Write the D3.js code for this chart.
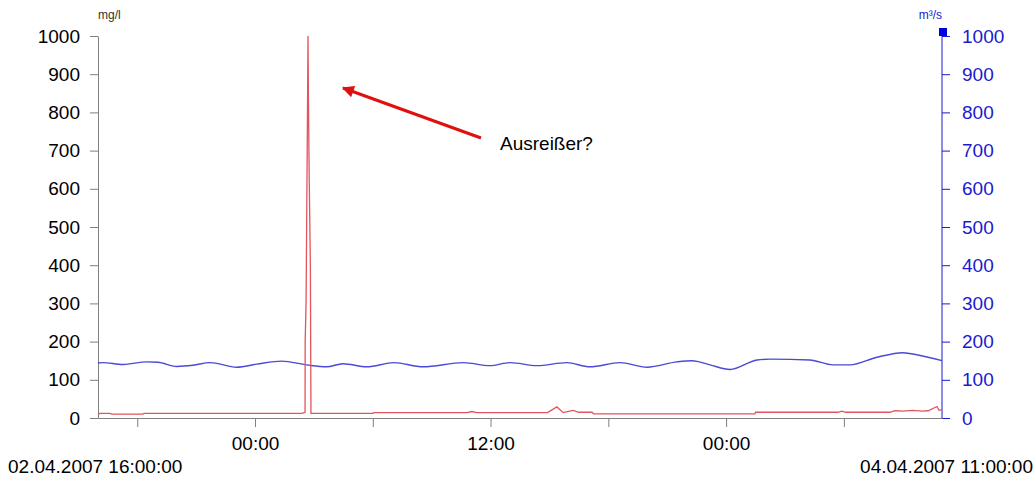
<!DOCTYPE html>
<html>
<head>
<meta charset="utf-8">
<script src="https://cdn.jsdelivr.net/npm/d3@7"></script>
<style>
  body { margin: 0; background: #fff; }
  svg { font-family: "Liberation Sans", Arial, sans-serif; }
</style>
</head>
<body>
<div id="chart"></div>
<script>
// Hours after 02.04.2007 16:00:00
const concHours = [0, 0.1, 0.6, 0.7, 2.29, 2.34, 10.4, 10.55, 10.555, 10.6, 10.65, 10.68, 10.7, 10.72, 10.76, 10.82, 10.85,
  14.0, 14.05, 18.8, 19.05, 19.3, 22.9, 23.38, 23.7, 24.2, 24.5, 25.17, 25.25, 33.47, 33.5,
  37.7, 37.9, 38.1, 40.35, 40.6, 41.0, 41.5, 42.0, 42.3, 42.74, 42.85, 43];
const concValues = [9, 12, 12, 10, 10, 12, 12, 15, 200, 300, 640, 850, 1000, 840, 630, 400, 12,
  12, 14, 14, 17, 14, 14, 29, 14, 20, 15, 15, 11, 11, 15,
  15, 18, 15, 15, 19, 18, 20, 18, 19, 30, 20, 22];

const flowHours = [0, 0.24, 1.27, 2.48, 3.06, 4.01, 4.84, 5.71, 7.07, 8.09, 9.36, 10.63, 11.65, 12.48,
  13.69, 15.08, 16.56, 18.6, 19.97, 20.99, 22.37, 23.89, 25.06, 26.59, 27.97, 29.5, 30.27, 31.18,
  32.2, 33.58, 34.24, 36.27, 37.45, 38.31, 39.69, 41.01, 41.78, 43];
const flowValues = [144, 145, 140, 147, 146, 135, 138, 145, 133, 141, 149, 139, 134, 142,
  134, 145, 134, 145, 137, 145, 137, 145, 134, 145, 133, 147, 150, 139,
  127, 152, 154, 152, 139, 139, 159, 171, 165, 150];

const yTicks = [0, 100, 200, 300, 400, 500, 600, 700, 800, 900, 1000];
const startLabel = "02.04.2007 16:00:00";
const endLabel = "04.04.2007 11:00:00";
const leftUnit = "mg/l";
const rightUnit = "m³/s";
const note = "Ausreißer?";

const start = new Date(2007, 3, 2, 16),
    end = new Date(2007, 3, 4, 11);
const toDate = h => new Date(start.getTime() + h * 3600000);

const W = 1035, H = 477;
const margin = {top: 36, right: 93, bottom: 59, left: 98},
    width = W - margin.left - margin.right,
    height = H - margin.top - margin.bottom;

const blue = "#1a1ad0";

const svg = d3.select("#chart").append("svg")
    .attr("width", W)
    .attr("height", H)
    .append("g")
    .attr("transform", "translate(" + margin.left + "," + margin.top + ")");

const x = d3.scaleTime().domain([start, end]).range([0, width]);
const yL = d3.scaleLinear().domain([0, 1000]).range([height, 0]);
const yR = d3.scaleLinear().domain([0, 1000]).range([height, 0]);

// Left axis
const gL = svg.append("g")
    .call(d3.axisLeft(yL).tickValues(yTicks).tickFormat(d3.format("d"))
        .tickSize(8).tickPadding(10).tickSizeOuter(0));
gL.selectAll("path, line").attr("stroke", "#808080");
gL.selectAll("text").attr("font-size", 19).attr("fill", "#000").attr("font-family", "Liberation Sans, Arial, sans-serif");

// Right axis
const gR = svg.append("g")
    .attr("transform", "translate(" + width + ",0)")
    .call(d3.axisRight(yR).tickValues(yTicks).tickFormat(d3.format("d"))
        .tickSize(8).tickPadding(12).tickSizeOuter(0));
gR.select("path").attr("d", "M0," + (-4) + "V" + height).attr("stroke", blue);
gR.selectAll("line").attr("stroke", blue);
gR.selectAll("text").attr("font-size", 19).attr("fill", blue).attr("font-family", "Liberation Sans, Arial, sans-serif");
svg.append("rect")
    .attr("x", width - 3).attr("y", -8)
    .attr("width", 8).attr("height", 8)
    .attr("fill", "#0000e0");

// Bottom axis
const gX = svg.append("g")
    .attr("transform", "translate(0," + height + ")")
    .call(d3.axisBottom(x)
        .tickValues(d3.timeHour.every(6).range(start, end))
        .tickSize(9).tickPadding(10).tickSizeOuter(0)
        .tickFormat(d => d.getHours() % 12 === 0 ? d3.timeFormat("%H:%M")(d) : ""));
gX.selectAll("path, line").attr("stroke", "#808080");
gX.selectAll("text").attr("font-size", 19).attr("fill", "#000").attr("font-family", "Liberation Sans, Arial, sans-serif");

// Units
svg.append("text").attr("x", 0).attr("y", -17)
    .attr("font-size", 12).attr("fill", "#333").text(leftUnit);
svg.append("text").attr("x", width).attr("y", -17).attr("text-anchor", "end")
    .attr("font-size", 12).attr("fill", blue).text(rightUnit);

// Flow line (right axis)
svg.append("path")
    .datum(flowHours.map((h, i) => ({t: toDate(h), v: flowValues[i]})))
    .attr("fill", "none")
    .attr("stroke", "#4a4ad6")
    .attr("stroke-width", 1.4)
    .attr("d", d3.line().x(d => x(d.t)).y(d => yR(d.v)).curve(d3.curveMonotoneX));

// Concentration line (left axis)
svg.append("path")
    .datum(concHours.map((h, i) => ({t: toDate(h), v: concValues[i]})))
    .attr("fill", "none")
    .attr("stroke", "#e2545e")
    .attr("stroke-width", 1.3)
    .attr("d", d3.line().x(d => x(d.t)).y(d => yL(d.v)));

// Date labels
d3.select("svg").append("text").attr("x", 8).attr("y", 473)
    .attr("font-size", 19).text(startLabel);
d3.select("svg").append("text").attr("x", 1033).attr("y", 473).attr("text-anchor", "end")
    .attr("font-size", 19).text(endLabel);

// Annotation arrow
const root = d3.select("svg");
root.append("defs").append("marker")
    .attr("id", "head")
    .attr("viewBox", "0 0 10 10")
    .attr("refX", 9).attr("refY", 5)
    .attr("markerWidth", 5).attr("markerHeight", 4)
    .attr("orient", "auto")
    .append("path").attr("d", "M0,0L10,5L0,10Z").attr("fill", "#e01010");
root.append("line")
    .attr("x1", 481).attr("y1", 138)
    .attr("x2", 343).attr("y2", 88)
    .attr("stroke", "#e01010").attr("stroke-width", 3)
    .attr("marker-end", "url(#head)");
root.append("text").attr("x", 500).attr("y", 150)
    .attr("font-size", 19).text(note);
</script>
</body>
</html>
